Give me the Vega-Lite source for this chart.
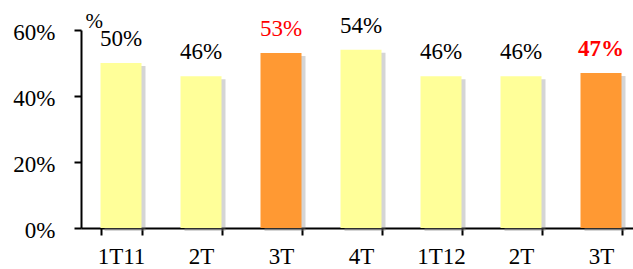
{
  "$schema": "https://vega.github.io/schema/vega-lite/v6.json",
  "autosize": {"type": "none"},
  "padding": {"left": 81, "top": 30, "right": 0, "bottom": 41},
  "width": 560,
  "height": 198,
  "background": "white",
  "config": {
    "view": {"stroke": null},
    "font": "Liberation Serif"
  },
  "data": {
    "values": [
      {"period": "1T11", "key": "a", "value": 50, "kind": "base", "label": "50%"},
      {"period": "2T", "key": "b", "value": 46, "kind": "base", "label": "46%"},
      {"period": "3T", "key": "c", "value": 53, "kind": "highlight", "label": "53%"},
      {"period": "4T", "key": "d", "value": 54, "kind": "base", "label": "54%"},
      {"period": "1T12", "key": "e", "value": 46, "kind": "base", "label": "46%"},
      {"period": "2T", "key": "f", "value": 46, "kind": "base", "label": "46%"},
      {"period": "3T", "key": "g", "value": 47, "kind": "highlightBold", "label": "47%"}
    ]
  },
  "encoding": {
    "x": {
      "field": "key",
      "type": "nominal",
      "sort": null,
      "scale": {"paddingInner": 0.4875, "paddingOuter": 0.24375},
      "axis": {
        "title": null,
        "labelExpr": "{'a':'1T11','b':'2T','c':'3T','d':'4T','e':'1T12','f':'2T','g':'3T'}[datum.value]",
        "labelAngle": 0,
        "tickBand": "extent",
        "labelFont": "Liberation Serif",
        "labelFontSize": 23,
        "labelColor": "black",
        "labelPadding": 10,
        "tickSize": 7,
        "tickWidth": 2,
        "tickColor": "black",
        "domainColor": "black",
        "domainWidth": 2,
        "labelBaseline": "top"
      }
    },
    "y": {
      "field": "value",
      "type": "quantitative",
      "scale": {"domain": [0, 60], "nice": false},
      "axis": {
        "values": [0, 20, 40, 60],
        "labelExpr": "datum.value + '%'",
        "labelFont": "Liberation Serif",
        "labelFontSize": 23,
        "labelColor": "black",
        "labelPadding": 19,
        "labelOffset": 2,
        "tickSize": 7,
        "tickWidth": 2,
        "tickColor": "black",
        "domainColor": "black",
        "domainWidth": 2,
        "grid": false,
        "title": "%",
        "titleFont": "Liberation Serif",
        "titleAngle": 0,
        "titleFontSize": 21,
        "titleFontWeight": "normal",
        "titleX": 4,
        "titleY": -3,
        "titleAlign": "left",
        "titleBaseline": "alphabetic",
        "titleColor": "black"
      }
    }
  },
  "layer": [
    {
      "mark": {"type": "bar", "color": "#888888", "opacity": 0.35, "xOffset": 4, "yOffset": 3},
      "encoding": {}
    },
    {
      "mark": {"type": "bar"},
      "encoding": {
        "color": {
          "field": "kind",
          "type": "nominal",
          "scale": {"domain": ["base", "highlight", "highlightBold"], "range": ["#FFFF99", "#FF9933", "#FF9933"]},
          "legend": null
        }
      }
    },
    {
      "transform": [{"filter": "datum.kind == 'base'"}],
      "mark": {"type": "text", "font": "Liberation Serif", "dy": -17, "baseline": "alphabetic", "fontSize": 23, "color": "black"},
      "encoding": {"text": {"field": "label"}}
    },
    {
      "transform": [{"filter": "datum.kind == 'highlight'"}],
      "mark": {"type": "text", "font": "Liberation Serif", "dy": -17, "baseline": "alphabetic", "fontSize": 23, "color": "#FF0000"},
      "encoding": {"text": {"field": "label"}}
    },
    {
      "transform": [{"filter": "datum.kind == 'highlightBold'"}],
      "mark": {"type": "text", "font": "Liberation Serif", "dy": -17, "baseline": "alphabetic", "fontSize": 23, "fontWeight": "bold", "color": "#FF0000"},
      "encoding": {"text": {"field": "label"}}
    }
  ]
}
